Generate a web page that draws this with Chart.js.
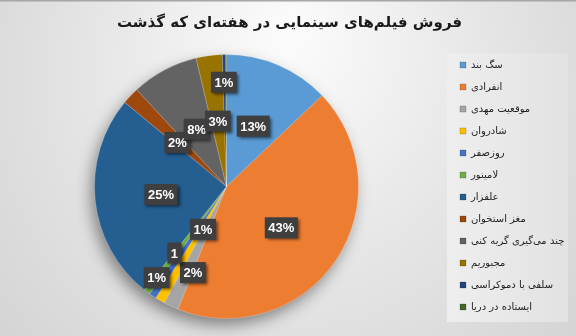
<!DOCTYPE html>
<html>
<head>
<meta charset="utf-8">
<script src="https://cdn.jsdelivr.net/npm/chart.js@4.4.1/dist/chart.umd.min.js"></script>
<style>
  html, body { margin: 0; padding: 0; background: #fff; }
  #wrap { width: 576px; height: 336px; }
</style>
</head>
<body>
<div id="wrap"><canvas id="salesChart" width="576" height="336"></canvas></div>
<script>
const titleText = 'فروش فیلم‌های سینمایی در هفته‌ای که گذشت';
const films = ['سگ بند', 'انفرادی', 'موقعیت مهدی', 'شادروان', 'روزصفر', 'لامینور', 'علفزار',
               'مغز استخوان', 'چند می‌گیری گریه کنی', 'مجبوریم', 'سلفی با دموکراسی', 'ایستاده در دریا'];
const sharePct = [12.9, 43.1, 1.8, 1.2, 0.9, 0.8, 25.3, 2.1, 8.2, 3.2, 0.4, 0.1];
const shareLabels = ['13%', '43%', '2%', '1%', '1', '1%', '25%', '2%', '8%', '3%', '1%', ''];

const sliceColors = ['#5B9BD5', '#ED7D31', '#A5A5A5', '#FFC000', '#4472C4', '#70AD47',
                     '#255E91', '#9E480E', '#636363', '#997300', '#264478', '#43682B'];
// where each label sits: [angle shift in degrees, fraction of radius]
const labelPlace = [[0.6, .5], [3, .52], [-3.5, .7], [-1.5, .37], [4, .64], [0.4, .87],
                    [-1.1, .5], [-1.5, .5], [0.5, .49], [0, .5], [-0.4, .79], [0, 0]];

// the legend sits a bit lower than chart.js puts it
const legendDrop = 18;

const legendShift = {
    id: 'legendShift',
    afterLayout(chart) {
        chart.legend.top += legendDrop;
        chart.legend.bottom += legendDrop;
    }
};

// gray background, border line and the legend panel
const backdrop = {
    id: 'backdrop',
    beforeDraw(chart) {
        const ctx = chart.ctx;
        const w = chart.width, h = chart.height;
        ctx.save();
        const g = ctx.createRadialGradient(290, 30, 10, 290, 120, 420);
        g.addColorStop(0, '#fbfbfb');
        g.addColorStop(0.45, '#e6e6e6');
        g.addColorStop(1, '#cfcfcf');
        ctx.fillStyle = g;
        ctx.fillRect(0, 0, w, h);
        ctx.fillStyle = '#a6a6a6';
        ctx.fillRect(0, 0, w, 1.5);

        const lg = chart.legend;
        const lgGrad = ctx.createLinearGradient(447, 0, 568, 0);
        lgGrad.addColorStop(0, '#eeeeee');
        lgGrad.addColorStop(1, '#e2e2e2');
        ctx.fillStyle = lgGrad;
        ctx.fillRect(lg.left - 1, 53, 568 - lg.left + 1, 269);
        ctx.restore();
    }
};

// soft shadow under the pie
const pieShadow = {
    id: 'pieShadow',
    beforeDatasetsDraw(chart) {
        const arc = chart.getDatasetMeta(0).data[0];
        if (!arc) return;
        const ctx = chart.ctx;
        ctx.save();
        ctx.shadowColor = 'rgba(0,0,0,0.45)';
        ctx.shadowBlur = 16;
        ctx.shadowOffsetX = -4;
        ctx.shadowOffsetY = 7;
        ctx.fillStyle = '#888';
        ctx.beginPath();
        ctx.arc(arc.x, arc.y, arc.outerRadius - 1, 0, Math.PI * 2);
        ctx.fill();
        ctx.restore();
    }
};

// dark boxed percentage labels
const boxLabels = {
    id: 'boxLabels',
    afterDatasetsDraw(chart) {
        const ctx = chart.ctx;
        const meta = chart.getDatasetMeta(0);
        ctx.save();
        ctx.font = 'bold 13px "Liberation Sans", Arial, sans-serif';
        ctx.textAlign = 'center';
        ctx.textBaseline = 'middle';
        meta.data.forEach((arc, i) => {
            const txt = shareLabels[i];
            if (!txt) return;
            const p = labelPlace[i];
            const mid = (arc.startAngle + arc.endAngle) / 2 + p[0] * Math.PI / 180;
            const r = arc.outerRadius * p[1];
            const x = arc.x + Math.cos(mid) * r;
            const y = arc.y + Math.sin(mid) * r;
            const tw = ctx.measureText(txt).width;
            const bw = tw + 7, bh = 21;
            ctx.save();
            ctx.shadowColor = 'rgba(0,0,0,0.55)';
            ctx.shadowBlur = 3;
            ctx.shadowOffsetX = 2;
            ctx.shadowOffsetY = 2;
            ctx.fillStyle = '#3f3f3f';
            ctx.fillRect(x - bw / 2, y - bh / 2, bw, bh);
            ctx.restore();
            ctx.fillStyle = '#ffffff';
            ctx.fillText(txt, x, y + 1);
        });
        ctx.restore();
    }
};

function InitSalesChart() {
    const ctx = document.getElementById('salesChart').getContext('2d');
    new Chart(ctx, {
        type: 'pie',
        data: {
            labels: films,
            datasets: [{
                data: sharePct,
                backgroundColor: sliceColors,
                borderColor: 'rgba(255,255,255,0.35)',
                borderWidth: 0.6,
                radius: 132
            }]
        },
        options: {
            responsive: false,
            animation: false,
            layout: {padding: {left: 5, right: 2, top: 0, bottom: 0}},
            plugins: {
                title: {
                    display: true,
                    text: titleText,
                    color: '#1a1a1a',
                    font: {family: '"DejaVu Sans", sans-serif', size: 15, weight: 'bold', lineHeight: 1.6},
                    padding: {top: 11, bottom: 2}
                },
                legend: {
                    position: 'right',
                    maxWidth: 126,
                    labels: {
                        boxWidth: 6,
                        boxHeight: 6,
                        padding: 12,
                        color: '#222',
                        font: {family: '"DejaVu Sans", sans-serif', size: 10},
                        generateLabels(chart) {
                            const base = Chart.overrides.pie.plugins.legend.labels.generateLabels(chart);
                            return base.map(item => Object.assign(item, {lineWidth: 0.5, strokeStyle: 'rgba(0,0,0,0.35)'}));
                        }
                    }
                },
                tooltip: {enabled: false}
            }
        },
        plugins: [legendShift, backdrop, pieShadow, boxLabels]
    });
}

InitSalesChart();
</script>
</body>
</html>
